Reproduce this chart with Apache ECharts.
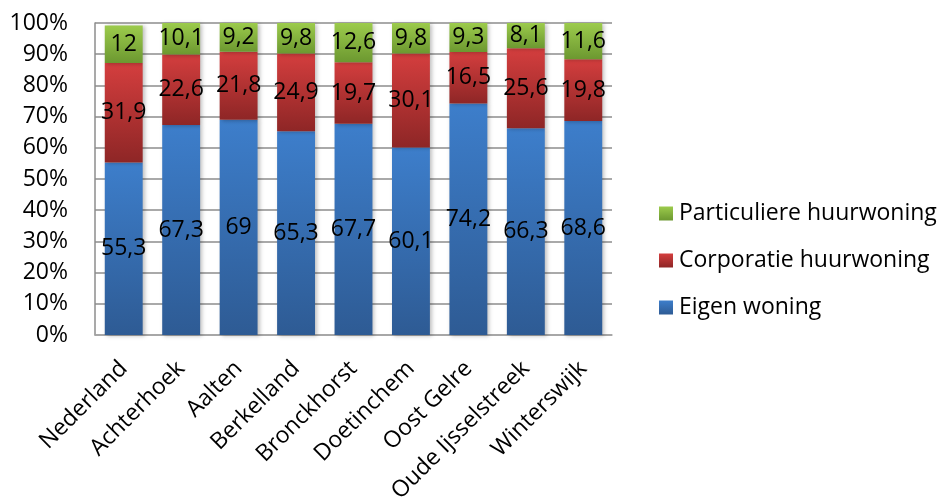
<!DOCTYPE html>
<html>
<head>
<meta charset="utf-8">
<script src="https://cdn.jsdelivr.net/npm/echarts@6/dist/echarts.min.js"></script>
<style>
  html, body { margin: 0; padding: 0; background: #fff; }
  #chart { width: 938px; height: 497px; }
</style>
</head>
<body>
<div id="chart"></div>
<script>
// Woningvoorraad naar eigendom (%)
const categories = ['Nederland', 'Achterhoek', 'Aalten', 'Berkelland', 'Bronckhorst', 'Doetinchem', 'Oost Gelre', 'Oude Ijsselstreek', 'Winterswijk'];
const eigenWoning = [55.3, 67.3, 69, 65.3, 67.7, 60.1, 74.2, 66.3, 68.6];
const corporatieHuur = [31.9, 22.6, 21.8, 24.9, 19.7, 30.1, 16.5, 25.6, 19.8];
const particuliereHuur = [12, 10.1, 9.2, 9.8, 12.6, 9.8, 9.3, 8.1, 11.6];
const yTicks = [0, 10, 20, 30, 40, 50, 60, 70, 80, 90, 100];

const FONT = '"Open Sans", sans-serif';
const FS = 23;

function grad(top, bottom) {
  return new echarts.graphic.LinearGradient(0, 0, 0, 1, [
    { offset: 0, color: top },
    { offset: 1, color: bottom }
  ]);
}

function fmt(v) {
  return String(v).replace('.', ',');
}

function makeSeries(name, data, top, bottom) {
  return {
    name: name,
    type: 'bar',
    stack: 'totaal',
    barCategoryGap: '34%',
    data: data,
    itemStyle: {
      color: grad(top, bottom),
      shadowColor: 'rgba(0,0,0,0.25)',
      shadowBlur: 4,
      shadowOffsetX: 2,
      shadowOffsetY: 1
    },
    label: {
      show: true,
      position: 'inside',
      color: '#000',
      fontFamily: FONT,
      fontSize: FS,
      formatter: p => fmt(p.value)
    }
  };
}

const chart = echarts.init(document.getElementById('chart'), null, { renderer: 'canvas' });
chart.setOption({
  animation: false,
  backgroundColor: '#fff',
  grid: { left: 95, right: 326, top: 23, bottom: 162, containLabel: false, outerBoundsMode: 'none' },
  legend: {
    orient: 'vertical',
    left: 654,
    top: 197,
    itemWidth: 14,
    itemHeight: 14,
    itemGap: 24,
    icon: 'rect',
    data: ['Particuliere huurwoning', 'Corporatie huurwoning', 'Eigen woning'],
    textStyle: { fontFamily: FONT, fontSize: FS, lineHeight: 23, color: '#000', padding: [0, 0, 0, 1] }
  },
  xAxis: {
    type: 'category',
    data: categories,
    axisLine: { lineStyle: { color: '#a6a6a6', width: 1.5 } },
    axisTick: { show: false },
    axisLabel: {
      rotate: 45,
      interval: 0,
      margin: 30,
      color: '#000',
      fontFamily: FONT,
      fontSize: FS
    }
  },
  yAxis: {
    type: 'value',
    min: yTicks[0],
    max: yTicks[yTicks.length - 1],
    interval: 10,
    axisLine: { show: true, lineStyle: { color: '#8c8c8c', width: 1.5 } },
    axisTick: { show: false },
    splitLine: { lineStyle: { color: '#8c8c8c', width: 1.5 } },
    axisLabel: {
      margin: 27,
      color: '#000',
      fontFamily: FONT,
      fontSize: FS,
      formatter: v => v + '%'
    }
  },
  series: [
    makeSeries('Eigen woning', eigenWoning, '#3d7ecb', '#2e5b94'),
    makeSeries('Corporatie huurwoning', corporatieHuur, '#d43e3e', '#8e2626'),
    makeSeries('Particuliere huurwoning', particuliereHuur, '#9ccb4c', '#6c9830')
  ]
});
</script>
</body>
</html>
